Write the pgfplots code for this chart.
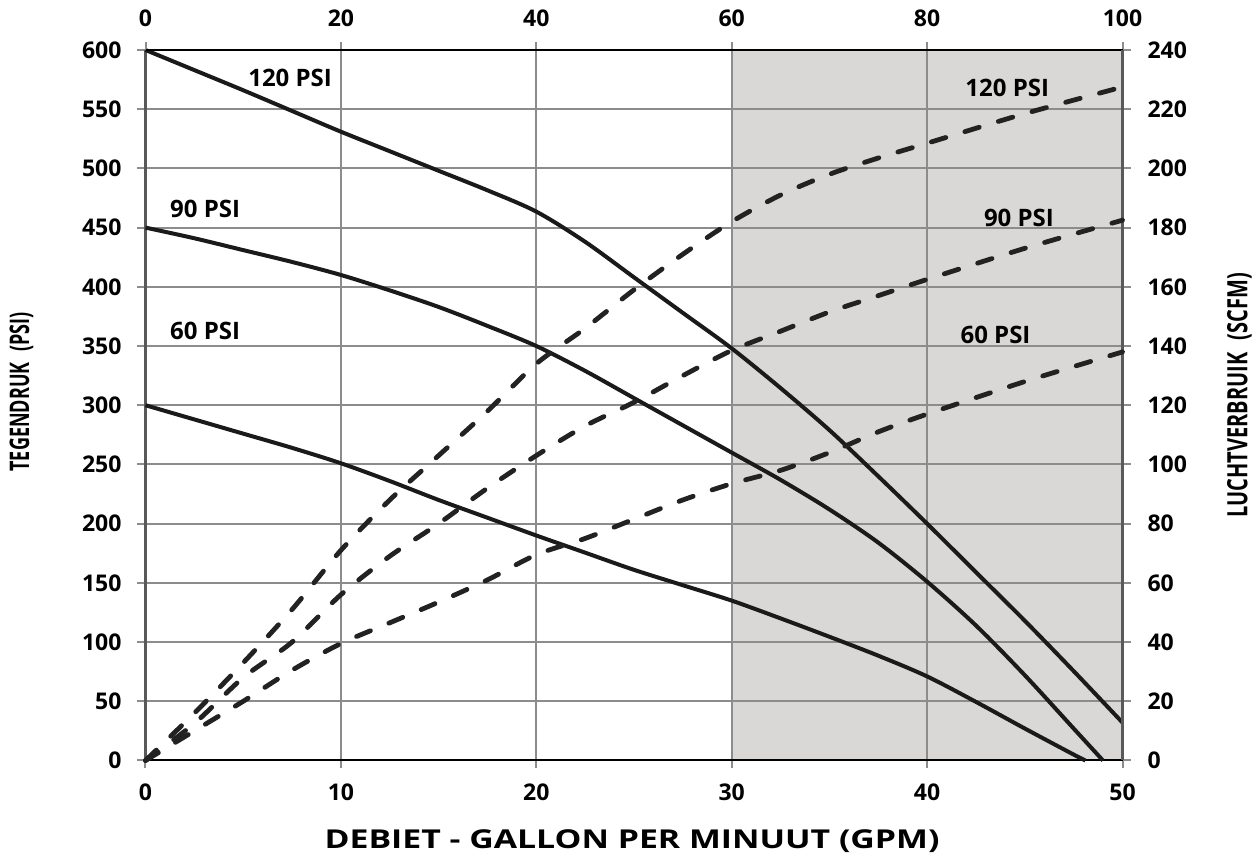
\documentclass[border=0pt]{standalone}
\usepackage{fontspec}
\setmainfont{Open Sans}
\usepackage{graphicx}
\usepackage{pgfplots}
\pgfplotsset{compat=1.18}
\usetikzlibrary{calc}
\definecolor{shade}{RGB}{217,216,214}
\definecolor{gridc}{RGB}{140,140,140}
\definecolor{curve}{RGB}{26,26,26}
\definecolor{dcurve}{RGB}{34,34,34}

\pgfplotsset{
  common/.style={
    scale only axis, width=488.5pt, height=355.25pt,
    xmin=0, xmax=50,
    /pgf/number format/assume math mode=true,
    tick label style={font=\bfseries\fontsize{11.5}{13}\selectfont},
    tick align=outside, major tick length=4pt,
    tick style={gridc, line width=1pt},
    clip=false,
  },
  solid curve/.style={curve, line width=2pt, smooth, tension=0.5, no markers},
  dash curve/.style={dcurve, line width=2.4pt, line cap=round, dash pattern=on 7.5pt off 10pt, smooth, no markers},
}
\newcommand{\lab}[1]{{\bfseries\fontsize{12}{14}\selectfont #1}}

\begin{document}
\begin{tikzpicture}
% background shading
\begin{axis}[common, hide axis, ymin=0, ymax=600]
  \addplot[fill=shade, draw=none] coordinates {(30,0) (50,0) (50,600) (30,600)} \closedcycle;
\end{axis}

% main axis (left / bottom)
\begin{axis}[common, name=main,
  ymin=0, ymax=600,
  xtick={0,10,...,50}, ytick={0,50,...,600},
  axis x line*=bottom, axis y line*=left,
  x axis line style={black, line width=1pt, -},
  y axis line style={gray!70!black, line width=1.5pt, -},
  grid=major, grid style={gridc, line width=1pt},
  xticklabel style={yshift=-4pt},
  yticklabel style={xshift=-4.5pt},
  xlabel={\scalebox{1.3}[1]{\bfseries\fontsize{13}{15}\selectfont DEBIET - GALLON PER MINUUT (GPM)}},
  ylabel={\scalebox{1}[1.5]{\bfseries\fontsize{9}{11}\selectfont TEGENDRUK\hspace{0.35em} (PSI)}},
  xlabel style={at={(axis description cs:0.498,-0.1133)}, anchor=center},
  ylabel style={at={(axis description cs:-0.1269,0.519)}, anchor=center},
]
  % 120 PSI
  \addplot[solid curve] coordinates {(0,600) (2.5,583) (5,566) (7.5,548.5) (10,531) (12.5,514.5) (15,498) (17.5,481.5) (20,463.5) (22.5,438) (25,408) (27.5,378) (30,348) (32.5,314.5) (35,279) (37.5,240) (40,200) (42.5,159) (45,118) (47.5,75.5) (50,32)};
  % 90 PSI
  \addplot[solid curve] coordinates {(0,450) (2.5,441) (5,431) (7.5,421) (10,410) (12.5,397) (15,383) (17.5,367) (20,350) (22.5,329) (25,306) (27.5,283) (30,260) (32.5,237) (35,212) (37.5,184) (40,151) (42.5,114) (45,72) (47.5,27) (49,0)};
  % 60 PSI
  \addplot[solid curve] coordinates {(0,300) (2.5,288) (5,276) (7.5,264) (10,251) (12.5,236) (15,220) (17.5,205) (20,190) (22.5,175.5) (25,161) (27.5,148) (30,135) (32.5,120) (35,104.5) (37.5,88.5) (40,71) (42.5,49.5) (45,27) (47.5,5) (48.1,0)};

  \node at (axis cs:7.4,576) {\lab{120 PSI}};
  \node at (axis cs:3.05,466) {\lab{90 PSI}};
  \node at (axis cs:3.05,363) {\lab{60 PSI}};
  \node at (axis cs:44.1,568) {\lab{120 PSI}};
  \node at (axis cs:44.7,458) {\lab{90 PSI}};
  \node at (axis cs:43.5,359) {\lab{60 PSI}};
\end{axis}

% secondary axis (right / top)
\begin{axis}[common,
  ymin=0, ymax=240,
  xtick={0,10,...,50}, xticklabels={0,20,40,60,80,100},
  ytick={0,20,...,240},
  axis x line*=top, axis y line*=right,
  x axis line style={black, line width=1pt, -},
  y axis line style={gray!70!black, line width=1.5pt, -},
  xticklabel style={yshift=4pt},
  yticklabel style={xshift=5pt},
  ylabel={\scalebox{1}[1.4]{\bfseries\fontsize{10}{12}\selectfont LUCHTVERBRUIK\hspace{0.35em} (SCFM)}},
  ylabel style={at={(axis description cs:1.1198,0.514)}, anchor=center},
]
  % 120 PSI air
  \addplot[dash curve] coordinates {(0,0) (2.5,16) (5,33) (7.5,51) (10,71) (12.5,88) (15,103) (17.5,118) (20,134) (22.5,146) (25,159) (27.5,171) (30,182) (32.5,191) (35,198) (37.5,203.5) (40,208.5) (45,218.5) (50,227.5)};
  % 90 PSI air
  \addplot[dash curve] coordinates {(0,0) (2.5,12.5) (5,28) (7.5,40) (10,56) (12.5,69) (15,80) (17.5,92) (20,103) (22.5,113) (25,121) (27.5,130) (30,138.5) (32.5,145) (35,151.5) (37.5,157) (40,162.5) (45,173) (50,182.5)};
  % 60 PSI air
  \addplot[dash curve] coordinates {(0,0) (2.5,10) (5,20) (7.5,30.5) (10,39.5) (12.5,46.5) (15,53.5) (17.5,61) (20,69.5) (22.5,75) (25,81.5) (27.5,88) (30,93.5) (32.5,98) (35,104) (37.5,111) (40,117) (45,128) (50,138)};
\end{axis}

\pgfresetboundingbox
\path ($(main.south west)+(-72.75pt,-47.75pt)$) rectangle ($(main.north east)+(68.75pt,25pt)$);
\end{tikzpicture}
\end{document}
